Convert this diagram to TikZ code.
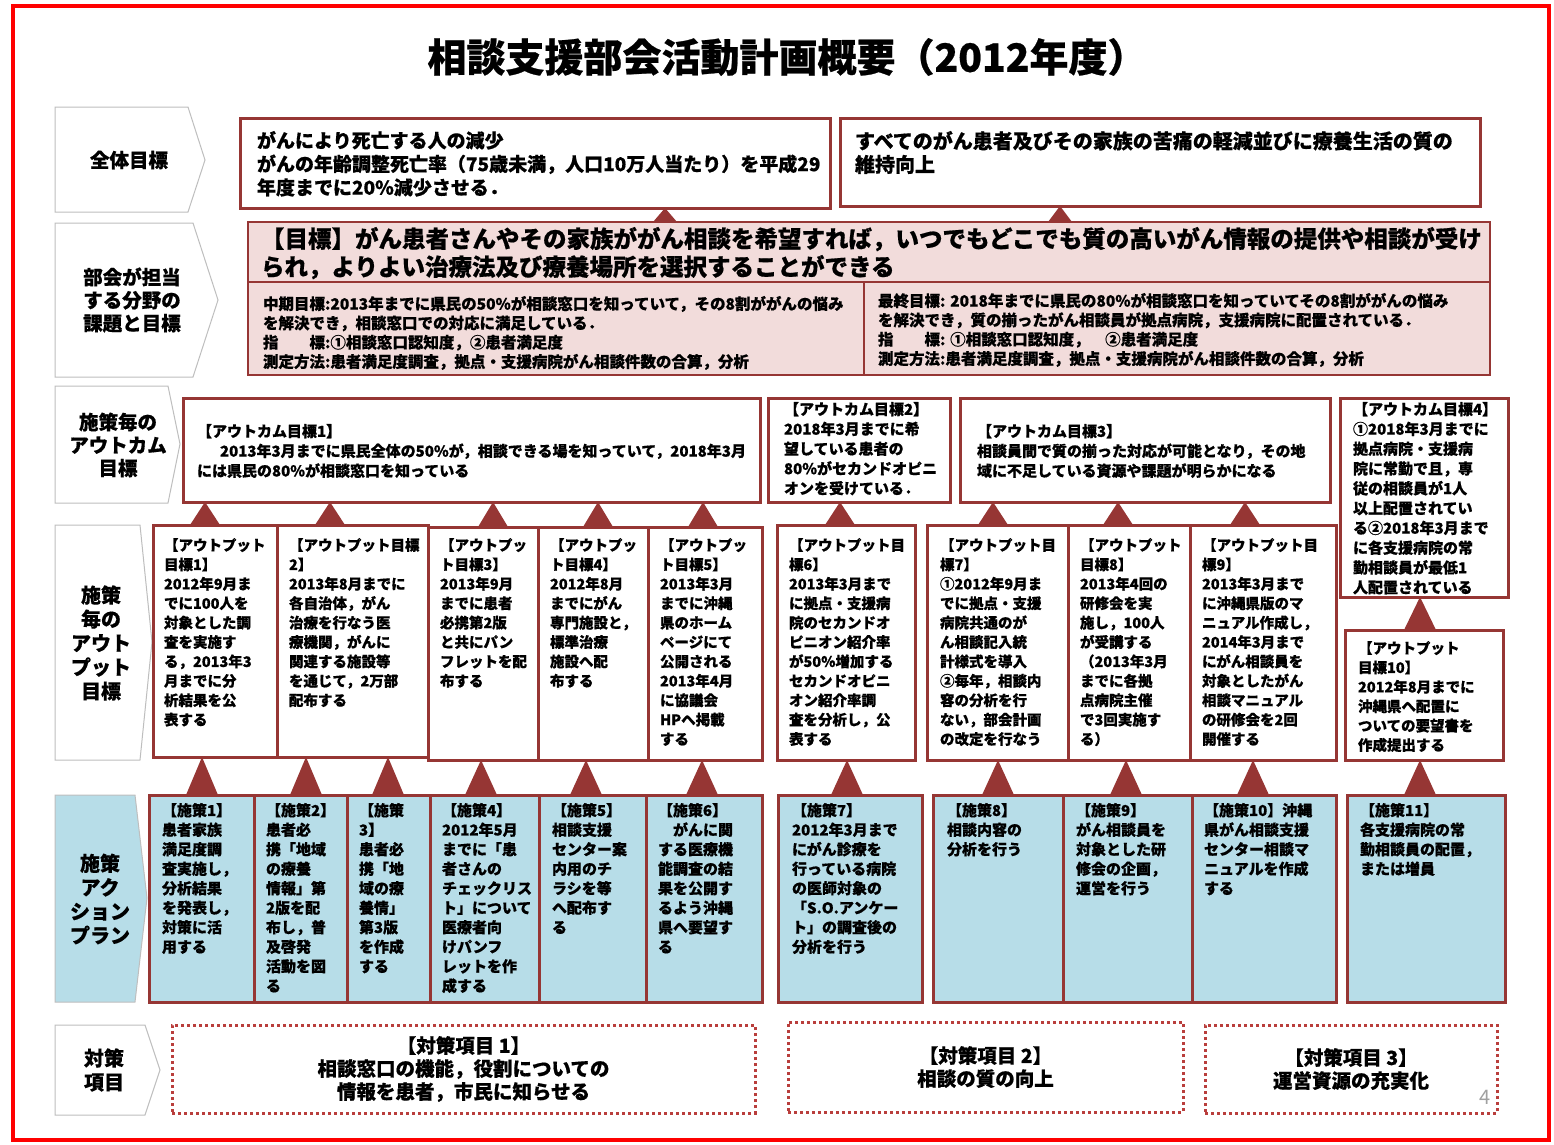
\documentclass[tikz,border=0pt]{standalone}
\usepackage{fontspec}
\setmainfont{Noto Sans CJK JP}[BoldFeatures={FakeBold=0.6}]
\usetikzlibrary{calc}
\definecolor{dred}{RGB}{150,54,52}
\definecolor{pinkf}{RGB}{242,220,219}
\definecolor{bluef}{RGB}{183,221,232}
\definecolor{lgray}{RGB}{190,190,190}
\definecolor{dotred}{RGB}{185,62,60}
\definecolor{pgray}{RGB}{160,160,160}
% box: name, style, x1, y1, x2, y2, text offset, text style, text
\newcommand\bx[9]{%
  \node[#2, minimum width=#5-#3, minimum height=#6-#4, anchor=north west] (#1) at (#3,#4) {};
  \node[txt,#8] (#1-t) at ($(#1.north west)+(#7)$) {#9};}
% triangle connector: lower node, upper node, x, half width
\newcommand\tri[4]{%
  \fill[tricol] (#3-#4,0 |- #1.north) -- (#3+#4,0 |- #1.north) -- (#3,0 |- #2.south) -- cycle;}
\tikzset{
 box/.style={draw=dred, line width=3pt, fill=white, inner sep=0pt, outer sep=0pt},
 abox/.style={box, fill=bluef},
 gbox/.style={draw=dred, line width=2pt, fill=pinkf, inner sep=0pt, outer sep=0pt},
 dbox/.style={draw=dotred, line width=3pt, dash pattern=on 3pt off 3pt, inner sep=0pt, outer sep=0pt, align=center, font=\bfseries\fontsize{19.5}{23}\selectfont},
 txt/.style={inner sep=0pt, outer sep=0pt, align=left, anchor=north west, font=\bfseries\fontsize{15}{19.5}\selectfont},
 ftop/.style={font=\bfseries\fontsize{19}{23.5}\selectfont},
 ftopb/.style={font=\bfseries\fontsize{20}{23.5}\selectfont},
 fhead/.style={font=\bfseries\fontsize{23.5}{28}\selectfont},
 fsub/.style={font=\bfseries\fontsize{15.5}{19.3}\selectfont},
 fout/.style={font=\bfseries\fontsize{15}{19.8}\selectfont},
 fput/.style={font=\bfseries\fontsize{14.5}{19.4}\selectfont},
 fact/.style={font=\bfseries\fontsize{15}{19.5}\selectfont},
 lab/.style={draw=lgray, line width=1pt, fill=white},
 labt/.style={inner sep=0pt, align=center, font=\bfseries\fontsize{19.5}{23}\selectfont},
 labt2/.style={inner sep=0pt, align=center, font=\bfseries\fontsize{20}{24}\selectfont},
 tricol/.style={fill=dred},
}
\begin{document}
\begin{tikzpicture}[x=1pt,y=-1pt]
\useasboundingbox (0,0) rectangle (1554,1144);
\fill[white] (0,0) rectangle (1554,1144);
\draw[red, line width=4pt] (13,6) rectangle (1549,1140);

% title
\node[font=\bfseries\fontsize{39}{44}\selectfont, inner sep=0pt] (title) at (787,57) {相談支援部会活動計画概要（2012年度）};

% left labels
\draw[lab] (55,107) -- (188,107) -- (205,160) -- (188,212) -- (55,212) -- cycle;
\node[labt] (l1) at (129,160) {全体目標};
\draw[lab] (55,223) -- (193,223) -- (218,300) -- (193,377) -- (55,377) -- cycle;
\node[labt] (l2) at (132,300) {部会が担当\\する分野の\\課題と目標};
\draw[lab] (55,386) -- (168,386) -- (180,444) -- (168,503) -- (55,503) -- cycle;
\node[labt] (l3) at (118,445) {施策毎の\\アウトカム\\目標};
\draw[lab] (55,525) -- (140,525) -- (152,642) -- (140,760) -- (55,760) -- cycle;
\node[labt2] (l4) at (101,643) {施策\\毎の\\アウト\\プット\\目標};
\draw[lab, fill=bluef] (55,795) -- (135,795) -- (147,898) -- (135,1002) -- (55,1002) -- cycle;
\node[labt2] (l5) at (100,899) {施策\\アク\\ション\\プラン};
\draw[lab] (55,1025) -- (145,1025) -- (160,1070) -- (145,1115) -- (55,1115) -- cycle;
\node[labt2] (l6) at (104,1070) {対策\\項目};

% overall goals
\bx{gA}{box}{240}{118}{830}{208}{17,13}{ftop}{がんにより死亡する人の減少\\がんの年齢調整死亡率（75歳未満，人口10万人当たり）を平成29\\年度までに20\%減少させる．}
\bx{gB}{box}{840}{118}{1480}{206}{15,13}{ftopb}{すべてのがん患者及びその家族の苦痛の軽減並びに療養生活の質の\\維持向上}

% section goal
\node[gbox, minimum width=1242, minimum height=153, anchor=north west] (goal) at (248,222) {};
\draw[dred, line width=2pt] (goal.west |- 0,282) -- (goal.east |- 0,282);
\draw[dred, line width=2pt] (864,282) -- (864,0 |- goal.south);
\node[txt, fhead] (goal-t) at ($(goal.north west)+(13,5)$) {【目標】がん患者さんやその家族ががん相談を希望すれば，いつでもどこでも質の高いがん情報の提供や相談が受け\\られ，よりよい治療法及び療養場所を選択することができる};
\node[txt, fsub] (goal-l) at ($(goal.north west)+(15,74)$) {中期目標:2013年までに県民の50\%が相談窓口を知っていて，その8割ががんの悩み\\を解決でき，相談窓口での対応に満足している．\\指　　標:①相談窓口認知度，②患者満足度\\測定方法:患者満足度調査，拠点・支援病院がん相談件数の合算，分析};
\node[txt, fsub] (goal-r) at ($(goal.north west)+(630,71)$) {最終目標: 2018年までに県民の80\%が相談窓口を知っていてその8割ががんの悩み\\を解決でき，質の揃ったがん相談員が拠点病院，支援病院に配置されている．\\指　　標: ①相談窓口認知度，　②患者満足度\\測定方法:患者満足度調査，拠点・支援病院がん相談件数の合算，分析};

% outcome goals
\bx{o1}{box}{183}{398}{760}{502}{14,26}{fout}{【アウトカム目標1】\\\hspace*{23pt}2013年3月までに県民全体の50\%が，相談できる場を知っていて，2018年3月\\には県民の80\%が相談窓口を知っている}
\bx{o2}{box}{768}{398}{950}{502}{16,4}{fout}{【アウトカム目標2】\\2018年3月までに希\\望している患者の\\80\%がセカンドオピニ\\オンを受けている．}
\bx{o3}{box}{960}{398}{1330}{502}{17,26}{fout}{【アウトカム目標3】\\相談員間で質の揃った対応が可能となり，その地\\域に不足している資源や課題が明らかになる}
\bx{o4}{box}{1340}{398}{1508}{597}{13,4}{fout}{【アウトカム目標4】\\①2018年3月までに\\拠点病院・支援病\\院に常勤で且，専\\従の相談員が1人\\以上配置されてい\\る②2018年3月まで\\に各支援病院の常\\勤相談員が最低1\\人配置されている}

% output goals
\bx{p1}{box}{153}{525}{277}{757}{11,13}{fput}{【アウトプット\\目標1】\\2012年9月ま\\でに100人を\\対象とした調\\査を実施す\\る，2013年3\\月までに分\\析結果を公\\表する}
\bx{p2}{box}{277}{525}{428}{757}{12,13}{fput}{【アウトプット目標\\2】\\2013年8月までに\\各自治体，がん\\治療を行なう医\\療機関，がんに\\関連する施設等\\を通じて，2万部\\配布する}
\bx{p3}{box}{428}{527}{538}{760}{12,11}{fput}{【アウトプッ\\ト目標3】\\2013年9月\\までに患者\\必携第2版\\と共にパン\\フレットを配\\布する}
\bx{p4}{box}{538}{527}{648}{760}{12,11}{fput}{【アウトプッ\\ト目標4】\\2012年8月\\までにがん\\専門施設と，\\標準治療\\施設へ配\\布する}
\bx{p5}{box}{648}{527}{762}{760}{12,11}{fput}{【アウトプッ\\ト目標5】\\2013年3月\\までに沖縄\\県のホーム\\ページにて\\公開される\\2013年4月\\に協議会\\HPへ掲載\\する}
\bx{p6}{box}{777}{525}{915}{760}{12,13}{fput}{【アウトプット目\\標6】\\2013年3月まで\\に拠点・支援病\\院のセカンドオ\\ピニオン紹介率\\が50\%増加する\\セカンドオピニ\\オン紹介率調\\査を分析し，公\\表する}
\bx{p7}{box}{927}{525}{1068}{760}{13,13}{fput}{【アウトプット目\\標7】\\①2012年9月ま\\でに拠点・支援\\病院共通のが\\ん相談記入統\\計様式を導入\\②毎年，相談内\\容の分析を行\\ない，部会計画\\の改定を行なう}
\bx{p8}{box}{1068}{525}{1190}{760}{12,13}{fput}{【アウトプット\\目標8】\\2013年4回の\\研修会を実\\施し，100人\\が受講する\\（2013年3月\\までに各拠\\点病院主催\\で3回実施す\\る）}
\bx{p9}{box}{1190}{525}{1336}{760}{12,13}{fput}{【アウトプット目\\標9】\\2013年3月まで\\に沖縄県版のマ\\ニュアル作成し，\\2014年3月まで\\にがん相談員を\\対象としたがん\\相談マニュアル\\の研修会を2回\\開催する}
\bx{p10}{box}{1345}{630}{1503}{760}{13,11}{fput}{【アウトプット\\目標10】\\2012年8月までに\\沖縄県へ配置に\\ついての要望書を\\作成提出する}

% action plans
\bx{a1}{abox}{149}{795}{254}{1002}{13,8}{fact}{【施策1】\\患者家族\\満足度調\\査実施し，\\分析結果\\を発表し，\\対策に活\\用する}
\bx{a2}{abox}{254}{795}{347}{1002}{12,8}{fact}{【施策2】\\患者必\\携「地域\\の療養\\情報」第\\2版を配\\布し，普\\及啓発\\活動を図\\る}
\bx{a3}{abox}{347}{795}{430}{1002}{12,8}{fact}{【施策\\3】\\患者必\\携「地\\域の療\\養情」\\第3版\\を作成\\する}
\bx{a4}{abox}{430}{795}{539}{1002}{12,8}{fact}{【施策4】\\2012年5月\\までに「患\\者さんの\\チェックリス\\ト」について\\医療者向\\けパンフ\\レットを作\\成する}
\bx{a5}{abox}{539}{795}{646}{1002}{13,8}{fact}{【施策5】\\相談支援\\センター案\\内用のチ\\ラシを等\\へ配布す\\る}
\bx{a6}{abox}{646}{795}{762}{1002}{12,8}{fact}{【施策6】\\　がんに関\\する医療機\\能調査の結\\果を公開す\\るよう沖縄\\県へ要望す\\る}
\bx{a7}{abox}{778}{795}{922}{1002}{14,8}{fact}{【施策7】\\2012年3月まで\\にがん診療を\\行っている病院\\の医師対象の\\「S.O.アンケー\\ト」の調査後の\\分析を行う}
\bx{a8}{abox}{933}{795}{1063}{1002}{14,8}{fact}{【施策8】\\相談内容の\\分析を行う}
\bx{a9}{abox}{1063}{795}{1192}{1002}{13,8}{fact}{【施策9】\\がん相談員を\\対象とした研\\修会の企画，\\運営を行う}
\bx{a10}{abox}{1192}{795}{1336}{1002}{12,8}{fact}{【施策10】沖縄\\県がん相談支援\\センター相談マ\\ニュアルを作成\\する}
\bx{a11}{abox}{1347}{795}{1505}{1002}{13,8}{fact}{【施策11】\\各支援病院の常\\勤相談員の配置，\\または増員}

% measures
\node[dbox, minimum width=583, minimum height=88, anchor=north west] (m1) at (172,1025) {【対策項目 1】\\相談窓口の機能，役割についての\\情報を患者，市民に知らせる};
\node[dbox, minimum width=395, minimum height=90, anchor=north west] (m2) at (788,1022) {【対策項目 2】\\相談の質の向上};
\node[dbox, minimum width=292, minimum height=88, anchor=north west] (m3) at (1205,1025) {【対策項目 3】\\運営資源の充実化};
\node[text=pgray, font=\fontsize{20}{24}\selectfont, inner sep=0pt] (pg) at (1485,1097) {4};

% connectors (triangles)
\tri{goal}{gA}{665}{12}
\tri{goal}{gB}{1060}{12}
\tri{p1}{o1}{205}{15}
\tri{p2}{o1}{330}{15}
\tri{p3}{o1}{493}{15}
\tri{p4}{o1}{598}{15}
\tri{p5}{o1}{703}{15}
\tri{p6}{o2}{840}{15}
\tri{p7}{o3}{993}{15}
\tri{p8}{o3}{1118}{15}
\tri{p9}{o3}{1245}{15}
\tri{p10}{o4}{1420}{16}
\tri{a1}{p1}{202}{16}
\tri{a2}{p2}{306}{16}
\tri{a3}{p2}{388}{16}
\tri{a4}{p3}{481}{16}
\tri{a5}{p4}{586}{16}
\tri{a6}{p5}{702}{16}
\tri{a7}{p6}{847}{16}
\tri{a8}{p7}{998}{16}
\tri{a9}{p8}{1126}{16}
\tri{a10}{p9}{1253}{16}
\tri{a11}{p10}{1420}{16}
\end{tikzpicture}
\end{document}
